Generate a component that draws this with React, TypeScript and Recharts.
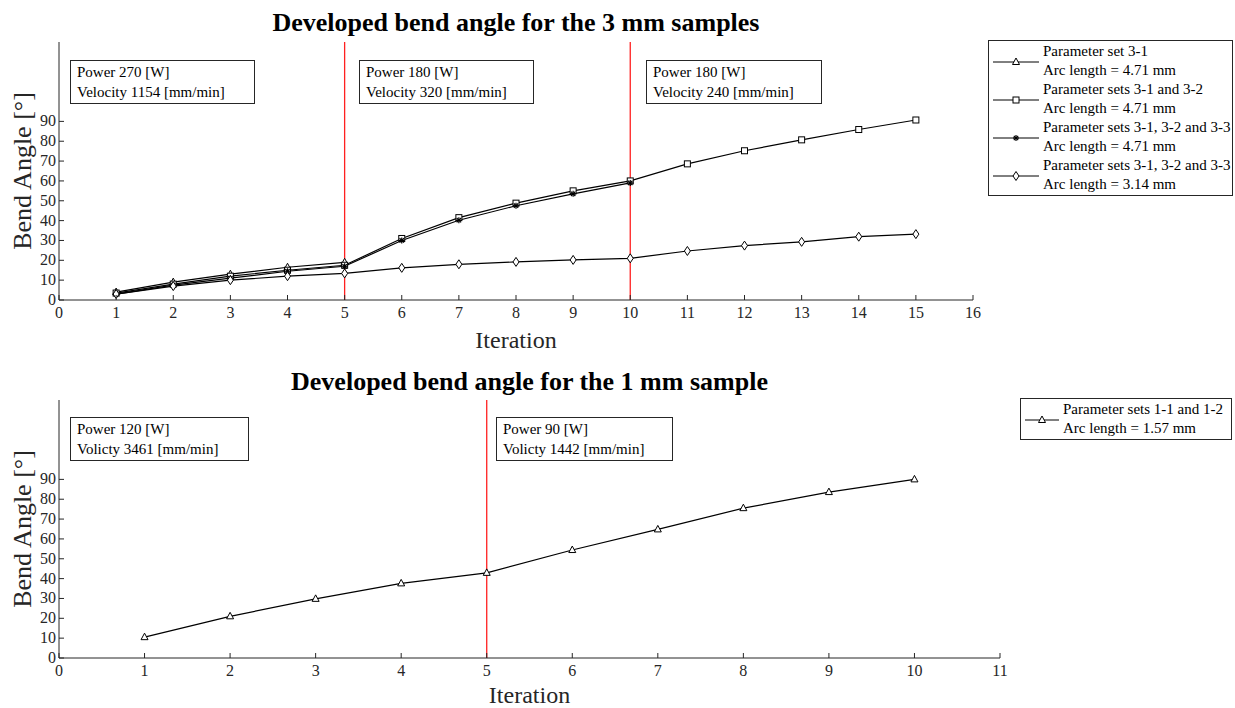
import React from "react";
import {
    LineChart, Line, XAxis, YAxis, ReferenceLine,
} from "recharts";

// top panel: 3 mm samples
const iter3 = [1, 2, 3, 4, 5, 6, 7, 8, 9, 10, 11, 12, 13, 14, 15];
const set31 = [4, 9, 13, 16.5, 19];
const sets31_32 = [3.5, 8, 12, 15, 17.5, 31, 41.5, 48.8, 55, 60, 68.6, 75.2, 80.7, 85.9, 90.7];
const sets31_33 = [3, 7.5, 11, 14.5, 17, 30, 40.2, 47.5, 53.5, 59];
const sets31_33short = [3, 7, 10, 12, 13.4, 16.2, 18, 19.2, 20.2, 21, 24.7, 27.4, 29.3, 31.9, 33.2];

// bottom panel: 1 mm sample
const iter1 = [1, 2, 3, 4, 5, 6, 7, 8, 9, 10];
const sets11_12 = [10.5, 21, 29.8, 37.6, 42.9, 54.4, 64.8, 75.5, 83.6, 90];

const xTicks3 = [0, 1, 2, 3, 4, 5, 6, 7, 8, 9, 10, 11, 12, 13, 14, 15, 16];
const xTicks1 = [0, 1, 2, 3, 4, 5, 6, 7, 8, 9, 10, 11];
const yTicks = [0, 10, 20, 30, 40, 50, 60, 70, 80, 90];

const data3 = iter3.map((it, i) => ({
    it,
    a: set31[i] ?? null,
    b: sets31_32[i] ?? null,
    c: sets31_33[i] ?? null,
    d: sets31_33short[i] ?? null,
}));
const data1 = iter1.map((it, i) => ({ it, a: sets11_12[i] }));

const INK = "#262626";
const RED = "#ff2020";
const FONT = "'Liberation Serif', 'Times New Roman', serif";

type MarkerKind = "triangle" | "square" | "star" | "diamond";

function Marker({ kind, cx, cy }: { kind: MarkerKind; cx: number; cy: number }) {
    const s = { fill: "white", stroke: "#000", strokeWidth: 1 };
    if (kind === "triangle") {
        return <polygon points={`${cx},${cy - 4} ${cx - 3.5},${cy + 2.5} ${cx + 3.5},${cy + 2.5}`} {...s} />;
    }
    if (kind === "square") {
        return <rect x={cx - 3} y={cy - 3} width={6} height={6} {...s} />;
    }
    if (kind === "diamond") {
        return <polygon points={`${cx},${cy - 4.5} ${cx + 3},${cy} ${cx},${cy + 4.5} ${cx - 3},${cy}`} {...s} />;
    }
    return (
        <g stroke="#000" strokeWidth={1.2}>
            <line x1={cx - 3} x2={cx + 3} y1={cy} y2={cy} />
            <line x1={cx} x2={cx} y1={cy - 3} y2={cy + 3} />
            <line x1={cx - 2.2} x2={cx + 2.2} y1={cy - 2.2} y2={cy + 2.2} />
            <line x1={cx - 2.2} x2={cx + 2.2} y1={cy + 2.2} y2={cy - 2.2} />
        </g>
    );
}

const dotFor = (kind: MarkerKind) => (p: any) => {
    if (p.value == null || p.cx == null || p.cy == null) return <g key={p.key} />;
    return (
        <g key={p.key}>
            <Marker kind={kind} cx={p.cx} cy={p.cy} />
        </g>
    );
};

const BottomTick = ({ x, y, payload }: any) => (
    <g>
        <line x1={x} x2={x} y1={y} y2={y - 5} stroke={INK} />
        <text x={x} y={y + 18} textAnchor="middle" fontSize={16} fill={INK} fontFamily={FONT}>{payload.value}</text>
    </g>
);
const TopTick = ({ x, y }: any) => <line x1={x} x2={x} y1={y} y2={y + 5} stroke={INK} />;
const LeftTick = ({ x, y, payload }: any) => (
    <g>
        <line x1={x} x2={x + 5} y1={y} y2={y} stroke={INK} />
        <text x={x - 3} y={y + 5} textAnchor="end" fontSize={16} fill={INK} fontFamily={FONT}>{payload.value}</text>
    </g>
);
const RightTick = ({ x, y }: any) => <line x1={x} x2={x - 5} y1={y} y2={y} stroke={INK} />;

interface LegendEntry { kind: MarkerKind; line1: string; line2: string }

const legend3: LegendEntry[] = [
    { kind: "triangle", line1: "Parameter set 3-1", line2: "Arc length = 4.71 mm" },
    { kind: "square", line1: "Parameter sets 3-1 and 3-2", line2: "Arc length = 4.71 mm" },
    { kind: "star", line1: "Parameter sets 3-1, 3-2 and 3-3", line2: "Arc length = 4.71 mm" },
    { kind: "diamond", line1: "Parameter sets 3-1, 3-2 and 3-3", line2: "Arc length = 3.14 mm" },
];
const legend1: LegendEntry[] = [
    { kind: "triangle", line1: "Parameter sets 1-1 and 1-2", line2: "Arc length = 1.57 mm" },
];

function LegendBox({ entries, left, top, width, sample }: { entries: LegendEntry[]; left: number; top: number; width: number; sample: number }) {
    return (
        <div style={{
            position: "absolute", left, top, width, boxSizing: "border-box",
            border: `1px solid ${INK}`, background: "#fff", fontFamily: FONT, fontSize: 15, color: "#000", padding: "1px 0",
        }}>
            {entries.map((e, i) => (
                <div key={i} style={{ display: "flex", alignItems: "center", height: 38 }}>
                    <svg width={sample + 8} height={38} style={{ flex: "none" }}>
                        <line x1={4} x2={sample + 4} y1={20} y2={20} stroke="#000" strokeWidth={1} />
                        <Marker kind={e.kind} cx={sample / 2 + 4} cy={20} />
                    </svg>
                    <div style={{ lineHeight: "19px", whiteSpace: "nowrap" }}>
                        <div>{e.line1}</div>
                        <div>{e.line2}</div>
                    </div>
                </div>
            ))}
        </div>
    );
}

function Note({ left, top, width, lines }: { left: number; top: number; width: number; lines: string[] }) {
    return (
        <div style={{
            position: "absolute", left, top, width, height: 44, boxSizing: "border-box",
            border: `1px solid ${INK}`, background: "#fff", fontFamily: FONT, fontSize: 15,
            lineHeight: "20px", padding: "1px 6px", color: "#000", whiteSpace: "nowrap",
        }}>
            {lines.map((l, i) => <div key={i}>{l}</div>)}
        </div>
    );
}

const titleStyle: React.CSSProperties = {
    position: "absolute", fontFamily: FONT, fontWeight: "bold", fontSize: 26,
    textAlign: "center", color: "#000", whiteSpace: "nowrap",
};

const xLabel = (dy: number) => ({ value: "Iteration", position: "center" as const, dy, fontSize: 24, fill: INK, fontFamily: FONT });
const yLabel = { value: "Bend Angle [°]", angle: -90, position: "center" as const, dx: -8, fontSize: 26, fill: INK, fontFamily: FONT };

export default function App() {
    return (
        <div style={{ position: "absolute", left: 0, top: 0, width: 1235, height: 708, background: "#fff", overflow: "hidden" }}>
            <div style={{ ...titleStyle, left: 59, width: 914, top: 8 }}>Developed bend angle for the 3 mm samples</div>
            <div style={{ position: "absolute", left: 0, top: 0 }}>
                <LineChart width={985} height={360} data={data3} margin={{ top: 42, right: 12, bottom: 0, left: 0 }}>
                    <XAxis dataKey="it" type="number" domain={[0, 16]} ticks={xTicks3} interval={0}
                        height={60} tickSize={0} tickMargin={0} tick={<BottomTick />} axisLine={{ stroke: INK }}
                        label={xLabel(9)} />
                    <XAxis xAxisId="top" orientation="top" dataKey="it" type="number" domain={[0, 16]} ticks={xTicks3}
                        interval={0} height={0} tickSize={0} tickMargin={0} tick={<TopTick />} axisLine={{ stroke: INK }} />
                    <YAxis type="number" domain={[0, 130]} ticks={yTicks} interval={0} width={59}
                        tickSize={0} tickMargin={0} tick={<LeftTick />} axisLine={{ stroke: INK }} label={yLabel} />
                    <YAxis yAxisId="right" orientation="right" type="number" domain={[0, 130]} ticks={yTicks}
                        interval={0} width={0} tickSize={0} tickMargin={0} tick={<RightTick />} axisLine={{ stroke: INK }} />
                    <ReferenceLine x={5} stroke={RED} strokeWidth={1.3} />
                    <ReferenceLine x={10} stroke={RED} strokeWidth={1.3} />
                    <Line dataKey="a" stroke="#000" strokeWidth={1.2} dot={dotFor("triangle")} isAnimationActive={false} />
                    <Line dataKey="b" stroke="#000" strokeWidth={1.2} dot={dotFor("square")} isAnimationActive={false} />
                    <Line dataKey="c" stroke="#000" strokeWidth={1.2} dot={dotFor("star")} isAnimationActive={false} />
                    <Line dataKey="d" stroke="#000" strokeWidth={1.2} dot={dotFor("diamond")} isAnimationActive={false} />
                </LineChart>
            </div>
            <LegendBox entries={legend3} left={988} top={40} width={245} sample={46} />
            <Note left={70} top={60} width={185} lines={["Power 270 [W]", "Velocity 1154 [mm/min]"]} />
            <Note left={359} top={60} width={175} lines={["Power 180 [W]", "Velocity 320 [mm/min]"]} />
            <Note left={646} top={60} width={176} lines={["Power 180 [W]", "Velocity 240 [mm/min]"]} />

            <div style={{ ...titleStyle, left: 59, width: 941, top: 367 }}>Developed bend angle for the 1 mm sample</div>
            <div style={{ position: "absolute", left: 0, top: 360 }}>
                <LineChart width={1012} height={348} data={data1} margin={{ top: 40, right: 12, bottom: 0, left: 0 }}>
                    <XAxis dataKey="it" type="number" domain={[0, 11]} ticks={xTicks1} interval={0}
                        height={50} tickSize={0} tickMargin={0} tick={<BottomTick />} axisLine={{ stroke: INK }}
                        label={xLabel(11)} />
                    <XAxis xAxisId="top" orientation="top" dataKey="it" type="number" domain={[0, 11]} ticks={xTicks1}
                        interval={0} height={0} tickSize={0} tickMargin={0} tick={<TopTick />} axisLine={{ stroke: INK }} />
                    <YAxis type="number" domain={[0, 130]} ticks={yTicks} interval={0} width={59}
                        tickSize={0} tickMargin={0} tick={<LeftTick />} axisLine={{ stroke: INK }} label={yLabel} />
                    <YAxis yAxisId="right" orientation="right" type="number" domain={[0, 130]} ticks={yTicks}
                        interval={0} width={0} tickSize={0} tickMargin={0} tick={<RightTick />} axisLine={{ stroke: INK }} />
                    <ReferenceLine x={5} stroke={RED} strokeWidth={1.3} />
                    <Line dataKey="a" stroke="#000" strokeWidth={1.2} dot={dotFor("triangle")} isAnimationActive={false} />
                </LineChart>
            </div>
            <LegendBox entries={legend1} left={1020} top={398} width={212} sample={34} />
            <Note left={70} top={417} width={179} lines={["Power 120 [W]", "Volicty 3461 [mm/min]"]} />
            <Note left={496} top={417} width={177} lines={["Power 90 [W]", "Volicty 1442 [mm/min]"]} />
        </div>
    );
}
